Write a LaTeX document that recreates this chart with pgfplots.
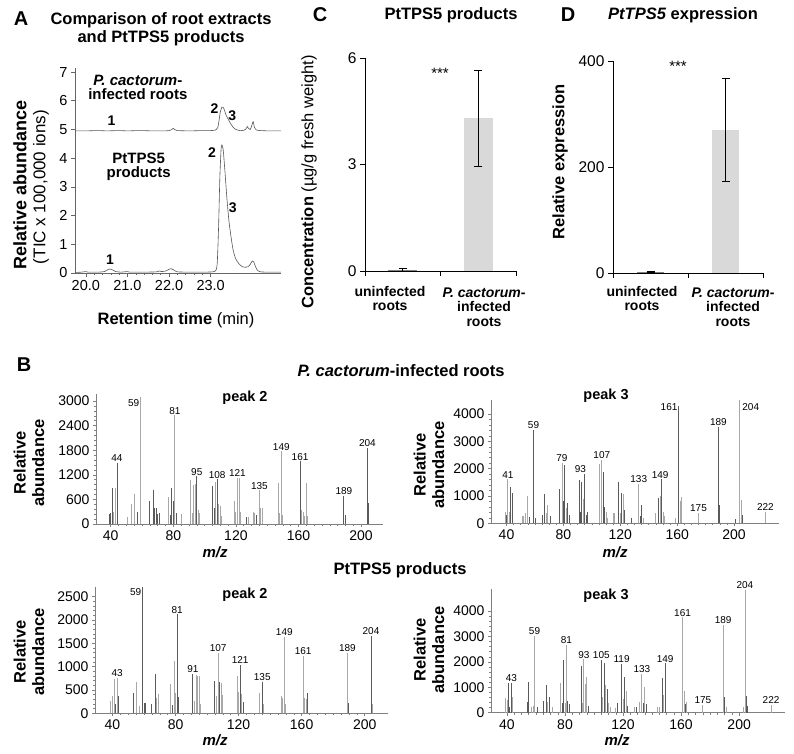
\documentclass[border=0pt]{standalone}
\usepackage{pgfplots}
\pgfplotsset{compat=1.18}
\usepackage{fontspec}
\setmainfont{Liberation Sans}
\newcommand{\fs}[1]{\fontsize{#1}{#1}\selectfont}
\definecolor{dk}{HTML}{5A5A5A}
\definecolor{lt}{HTML}{A8A8A8}
\definecolor{barg}{HTML}{D9D9D9}
\definecolor{trace}{HTML}{555555}
\tikzset{pl/.style={font=\fs{10}, inner sep=1pt, anchor=south}}
\pgfplotsset{
  base/.style={scale only axis, clip=false, anchor=south west,
    axis x line*=bottom, axis y line*=left,
    /pgf/number format/assume math mode=true,
    /pgf/number format/1000 sep={},
    scaled ticks=false,
    tick align=outside,
    major tick length=4pt,
    tick style={black, line width=0.5pt},
    axis line style={black, line width=0.6pt},
    ticklabel style={font=\fs{15.5}},
  },
  spec/.style={base,
    axis line style={gray, line width=0.6pt},
    tick style={gray, line width=0.5pt},
    ticklabel style={font=\fs{14}},
    xtick={40,80,120,160,200},
    minor x tick num=7, minor y tick num=4,
    minor tick length=2pt, major tick length=3pt,
    ymin=0},
  dkc/.style={ycomb, no marks, color=dk, line width=0.9pt},
  ltc/.style={ycomb, no marks, color=lt, line width=0.9pt},
}
\begin{document}
\begin{tikzpicture}
\path[use as bounding box] (0pt,0pt) rectangle (794pt,753pt);

% ---------------- Panel A ----------------
\begin{axis}[base, at={(75pt,480pt)}, width=206pt, height=205pt,
  xmin=19.74, xmax=24.69, ymin=0, ymax=7.14,
  xtick={20,21,22,23}, xticklabels={20.0,21.0,22.0,23.0},
  ytick={0,1,2,3,4,5,6,7},
  minor x tick num=4, minor tick length=2pt,
  axis line style={gray!80!black, line width=0.6pt},
  tick style={gray!80!black},
  ticklabel style={font=\fs{14.5}}]
\addplot[trace, line width=0.6pt, smooth, tension=0.4] coordinates {
(19.74,4.95) (20.0,4.95) (20.3,4.96) (20.5,4.95) (20.8,4.96) (21.0,4.95) (21.3,4.96) (21.6,4.95) (21.9,4.95) (22.0,4.96) (22.06,4.99) (22.1,5.04) (22.14,4.99) (22.2,4.96) (22.5,4.95) (22.8,4.96) (23.0,4.96) (23.12,4.98) (23.17,5.06) (23.2,5.3) (23.23,5.6) (23.27,5.78) (23.3,5.77) (23.33,5.68) (23.37,5.5) (23.42,5.36) (23.48,5.2) (23.55,5.06) (23.62,4.99) (23.7,4.96) (23.8,4.97) (23.85,5.02) (23.88,5.1) (23.91,5.03) (23.95,5.0) (23.98,5.1) (24.02,5.27) (24.05,5.08) (24.1,4.98) (24.2,4.96) (24.4,4.95) (24.69,4.95)};
\addplot[trace, line width=0.6pt, smooth, tension=0.4] coordinates {
(19.74,0.02) (19.9,0.03) (20.0,0.05) (20.05,0.03) (20.3,0.03) (20.45,0.05) (20.52,0.11) (20.58,0.14) (20.64,0.11) (20.72,0.05) (20.85,0.03) (21.0,0.05) (21.05,0.03) (21.4,0.03) (21.7,0.04) (21.76,0.07) (21.82,0.05) (21.92,0.07) (22.0,0.13) (22.05,0.15) (22.12,0.1) (22.2,0.04) (22.5,0.03) (22.8,0.03) (23.05,0.04) (23.13,0.1) (23.16,0.4) (23.19,1.6) (23.22,3.3) (23.25,4.3) (23.27,4.46) (23.3,4.3) (23.34,3.6) (23.39,2.6) (23.44,1.8) (23.49,1.25) (23.54,0.8) (23.6,0.5) (23.68,0.32) (23.76,0.22) (23.84,0.2) (23.9,0.22) (23.95,0.3) (24.0,0.42) (24.03,0.4) (24.07,0.25) (24.12,0.1) (24.2,0.04) (24.4,0.03) (24.69,0.03)};
\node[font=\fs{14}\bfseries] at (axis cs:20.62,5.3) {1};
\node[font=\fs{14}\bfseries] at (axis cs:23.09,5.74) {2};
\node[font=\fs{14}\bfseries] at (axis cs:23.52,5.47) {3};
\node[font=\fs{14}\bfseries] at (axis cs:20.58,0.48) {1};
\node[font=\fs{14}\bfseries] at (axis cs:23.03,4.18) {2};
\node[font=\fs{14}\bfseries] at (axis cs:23.53,2.26) {3};
\node[font=\fs{15}\bfseries, align=center, inner sep=0pt] at (axis cs:21.25,6.45) {\textit{P. cactorum}-\\[-1pt]infected roots};
\node[font=\fs{15}\bfseries, align=center, inner sep=0pt] at (axis cs:21.27,3.7) {PtTPS5\\[-1pt]products};
\end{axis}

% ---------------- Panel C ----------------
\begin{axis}[base, at={(365pt,482pt)}, width=151pt, height=213pt,
  xmin=0, xmax=2, ymin=0, ymax=6,
  xtick={0,1,2}, xticklabels={}, ytick={0,3,6}, major tick length=5pt]
\addplot[ybar, bar width=29pt, bar shift=0pt, fill=gray, draw=none,
  error bars/.cd, y dir=both, y explicit,
  error bar style={black, line width=0.8pt},
  error mark options={rotate=90, mark size=4pt, black, line width=0.8pt}]
  coordinates {(0.5,0.03) +- (0,0.04)};
\addplot[ybar, bar width=29pt, bar shift=0pt, fill=barg, draw=none,
  error bars/.cd, y dir=both, y explicit,
  error bar style={black, line width=0.8pt},
  error mark options={rotate=90, mark size=4pt, black, line width=0.8pt}]
  coordinates {(1.5,4.30) +- (0,1.34)};
\end{axis}

% ---------------- Panel D ----------------
\begin{axis}[base, at={(613pt,480pt)}, width=150pt, height=212pt,
  xmin=0, xmax=2, ymin=0, ymax=400,
  xtick={0,1,2}, xticklabels={}, ytick={0,200,400}, major tick length=5pt]
\addplot[ybar, bar width=27pt, bar shift=0pt, fill=gray, draw=none,
  error bars/.cd, y dir=both, y explicit,
  error bar style={black, line width=0.8pt},
  error mark options={rotate=90, mark size=4pt, black, line width=0.8pt}]
  coordinates {(0.5,2) +- (0,1.5)};
\addplot[ybar, bar width=27pt, bar shift=0pt, fill=barg, draw=none,
  error bars/.cd, y dir=both, y explicit,
  error bar style={black, line width=0.8pt},
  error mark options={rotate=90, mark size=4pt, black, line width=0.8pt}]
  coordinates {(1.5,270) +- (0,97)};
\end{axis}

% ---------------- Spectrum 1 ----------------
\begin{axis}[spec, at={(96pt,229pt)}, width=287pt, height=130pt,
  xmin=30.6, xmax=214, ymax=3171, ytick={0,600,1200,1800,2400,3000}]
\addplot[dkc] coordinates {(39,250)(40,280)(41,880)(44,1500)(57,300)(65,560)(67,840)(68,400)(69,400)(70,240)(71,270)(78,220)(79,880)(80,560)(82,270)(95,1160)(105,920)(106,380)(108,1090)(127,180)(133,230)(161,1525)(189,680)(190,230)(204,1865)(205,520)};
\addplot[ltc] coordinates {(42,300)(43,880)(51,170)(53,500)(55,720)(59,3100)(77,650)(81,2650)(85,250)(91,1080)(92,270)(93,950)(94,970)(96,330)(97,280)(107,1030)(109,480)(110,430)(111,200)(119,550)(120,300)(121,1130)(122,1130)(123,290)(128,180)(131,300)(132,280)(135,820)(136,380)(137,380)(147,1000)(148,260)(149,1770)(150,220)(162,330)(163,290)(164,200)(165,1000)(166,200)};
\node[pl] at (axis cs:44,1500) {44};
\node[pl, anchor=east] at (axis cs:59,2950) {59};
\node[pl] at (axis cs:81,2650) {81};
\node[pl] at (axis cs:95,1160) {95};
\node[pl] at (axis cs:108,1090) {108};
\node[pl] at (axis cs:121,1130) {121};
\node[pl] at (axis cs:135,820) {135};
\node[pl] at (axis cs:149,1770) {149};
\node[pl] at (axis cs:161,1525) {161};
\node[pl] at (axis cs:189,680) {189};
\node[pl] at (axis cs:204,1865) {204};
\end{axis}

% ---------------- Spectrum 2 ----------------
\begin{axis}[spec, at={(491pt,229.7pt)}, width=288pt, height=123.3pt,
  xmin=29.1, xmax=231.6, ymax=4512, ytick={0,1000,2000,3000,4000}]
\addplot[dkc] coordinates {(40,300)(43,1340)(44,1100)(56,230)(59,3410)(60,200)(65,300)(67,1070)(71,280)(77,1250)(80,830)(81,2150)(83,730)(84,300)(91,1580)(92,400)(93,1520)(95,1800)(96,300)(97,400)(108,1890)(109,600)(119,1520)(121,1120)(123,490)(128,180)(134,250)(135,670)(147,910)(149,1610)(161,4290)(189,3540)(190,670)(201,150)(206,300)};
\addplot[ltc] coordinates {(39,430)(41,1610)(42,400)(51,280)(52,250)(53,390)(55,1000)(68,390)(69,670)(79,2220)(82,570)(94,900)(105,2170)(107,2320)(110,400)(111,200)(115,390)(116,390)(120,390)(122,1060)(133,1440)(136,200)(145,390)(148,1010)(150,430)(151,250)(159,180)(162,830)(163,970)(175,370)(204,4500)(205,850)(222,430)};
\node[pl] at (axis cs:41,1610) {41};
\node[pl] at (axis cs:59,3410) {59};
\node[pl] at (axis cs:79,2220) {79};
\node[pl] at (axis cs:92,1800) {93};
\node[pl] at (axis cs:107,2320) {107};
\node[pl] at (axis cs:133,1440) {133};
\node[pl] at (axis cs:148,1610) {149};
\node[pl, anchor=east] at (axis cs:161,4250) {161};
\node[pl] at (axis cs:175,370) {175};
\node[pl] at (axis cs:189,3540) {189};
\node[pl, anchor=west] at (axis cs:205,4250) {204};
\node[pl] at (axis cs:222,430) {222};
\end{axis}

% ---------------- Spectrum 3 ----------------
\begin{axis}[spec, at={(95pt,39.7pt)}, width=293pt, height=126.6pt,
  xmin=28.9, xmax=214.8, ymax=2713, ytick={0,500,1000,1500,2000,2500}]
\addplot[dkc] coordinates {(42,210)(44,380)(53,430)(59,2710)(60,230)(61,230)(65,210)(67,840)(78,180)(81,2120)(82,340)(91,840)(105,700)(108,680)(121,1040)(123,250)(135,680)(164,440)(190,230)(204,1660)};
\addplot[ltc] coordinates {(39,270)(40,380)(41,740)(43,760)(55,670)(57,160)(68,320)(69,410)(77,620)(79,1130)(80,440)(92,270)(93,820)(94,810)(95,810)(96,210)(106,370)(107,1290)(109,640)(110,390)(119,790)(120,450)(122,410)(133,430)(136,200)(147,380)(148,320)(149,1640)(150,210)(161,1230)(162,320)(163,300)(189,1300)(205,210)};
\node[pl] at (axis cs:43,760) {43};
\node[pl, anchor=east] at (axis cs:59,2600) {59};
\node[pl] at (axis cs:81,2120) {81};
\node[pl] at (axis cs:91,840) {91};
\node[pl] at (axis cs:107,1290) {107};
\node[pl] at (axis cs:121,1040) {121};
\node[pl] at (axis cs:135,680) {135};
\node[pl] at (axis cs:149,1640) {149};
\node[pl] at (axis cs:161,1230) {161};
\node[pl] at (axis cs:189,1300) {189};
\node[pl] at (axis cs:204,1660) {204};
\end{axis}

% ---------------- Spectrum 4 ----------------
\begin{axis}[spec, at={(491pt,40.3pt)}, width=294pt, height=123.4pt,
  xmin=29.0, xmax=231.6, ymax=4858, ytick={0,1000,2000,3000,4000}]
\addplot[dkc] coordinates {(41,1150)(42,240)(43,1180)(54,430)(55,1220)(61,240)(65,460)(67,1090)(69,600)(78,390)(79,2070)(82,460)(83,340)(91,1840)(96,280)(105,2070)(107,1940)(109,920)(116,390)(119,1920)(121,1420)(123,280)(129,210)(134,390)(136,340)(147,1380)(149,1940)(163,340)(190,630)(205,660)(206,280)};
\addplot[ltc] coordinates {(39,560)(40,500)(44,630)(57,240)(58,280)(59,3020)(68,410)(71,210)(77,1150)(80,390)(81,2660)(92,370)(93,2100)(94,1120)(95,1420)(106,600)(108,1090)(110,390)(111,240)(115,170)(120,520)(122,850)(128,240)(131,410)(133,1520)(135,1020)(144,210)(145,210)(148,700)(161,3750)(162,870)(164,430)(175,300)(189,3450)(191,210)(203,240)(204,4830)(222,300)};
\node[pl] at (axis cs:43,1180) {43};
\node[pl] at (axis cs:59,3020) {59};
\node[pl] at (axis cs:81,2660) {81};
\node[pl] at (axis cs:93,2100) {93};
\node[pl] at (axis cs:105,2070) {105};
\node[pl] at (axis cs:119,1920) {119};
\node[pl] at (axis cs:133,1520) {133};
\node[pl] at (axis cs:149,1940) {149};
\node[pl] at (axis cs:161,3750) {161};
\node[pl] at (axis cs:175,300) {175};
\node[pl] at (axis cs:189,3450) {189};
\node[pl] at (axis cs:204,4830) {204};
\node[pl] at (axis cs:222,300) {222};
\end{axis}

% ---------------- Text ----------------
\node[font=\fs{20}\bfseries] at (21pt,734.5pt) {A};
\node[font=\fs{16.5}\bfseries] at (161pt,733pt) {Comparison of root extracts};
\node[font=\fs{16.5}\bfseries] at (161pt,715pt) {and PtTPS5 products};
\node[font=\fs{20}\bfseries] at (320pt,738pt) {C};
\node[font=\fs{16.5}\bfseries] at (451pt,738pt) {PtTPS5 products};
\node[font=\fs{20}\bfseries] at (568pt,738pt) {D};
\node[font=\fs{16.5}\bfseries] at (683pt,738pt) {\textit{PtTPS5} expression};
\node[font=\fs{18}\bfseries, rotate=90] at (20pt,568pt) {Relative abundance};
\node[font=\fs{17}, rotate=90] at (41pt,566pt) {(TIC x 100,000 ions)};
\node[font=\fs{16.5}] at (176pt,433pt) {\textbf{Retention time} (min)};
\node[font=\fs{16.5}, rotate=90] at (309pt,571pt) {\textbf{Concentration} (µg/g fresh weight)};
\node[font=\fs{16.5}\bfseries, rotate=90] at (560pt,591pt) {Relative expression};
\node[font=\fs{14}\bfseries, align=center] at (390pt,454.5pt) {uninfected\\[0.5pt]roots};
\node[font=\fs{14}\bfseries, align=center] at (484pt,446pt) {\textit{P. cactorum}-\\[0.5pt]infected\\[0.5pt]roots};
\node[font=\fs{14}\bfseries, align=center] at (642pt,454.5pt) {uninfected\\[0.5pt]roots};
\node[font=\fs{14}\bfseries, align=center] at (733pt,446pt) {\textit{P. cactorum}-\\[0.5pt]infected\\[0.5pt]roots};
\node[font=\fs{15}] at (440pt,680pt) {***};
\node[font=\fs{15}] at (678pt,687pt) {***};
\node[font=\fs{20}\bfseries] at (24pt,388pt) {B};
\node[font=\fs{16.5}\bfseries] at (401pt,382pt) {\textit{P. cactorum}-infected roots};
\node[font=\fs{16.5}\bfseries] at (400pt,183pt) {PtTPS5 products};
\node[font=\fs{14.5}\bfseries] at (245pt,355pt) {peak 2};
\node[font=\fs{14.5}\bfseries] at (606pt,357pt) {peak 3};
\node[font=\fs{14.5}\bfseries] at (245pt,158pt) {peak 2};
\node[font=\fs{14.5}\bfseries] at (606pt,157pt) {peak 3};
\node[font=\fs{16.5}\bfseries, rotate=90, align=center] at (29pt,290pt) {Relative\\[2pt]abundance};
\node[font=\fs{16.5}\bfseries, rotate=90, align=center] at (429pt,288pt) {Relative\\[2pt]abundance};
\node[font=\fs{16.5}\bfseries, rotate=90, align=center] at (29pt,101pt) {Relative\\[2pt]abundance};
\node[font=\fs{16.5}\bfseries, rotate=90, align=center] at (429pt,103pt) {Relative\\[2pt]abundance};
\node[font=\fs{15}\bfseries\itshape] at (215pt,201pt) {m/z};
\node[font=\fs{15}\bfseries\itshape] at (615pt,201pt) {m/z};
\node[font=\fs{15}\bfseries\itshape] at (215pt,13pt) {m/z};
\node[font=\fs{15}\bfseries\itshape] at (617pt,13pt) {m/z};
\end{tikzpicture}
\end{document}
